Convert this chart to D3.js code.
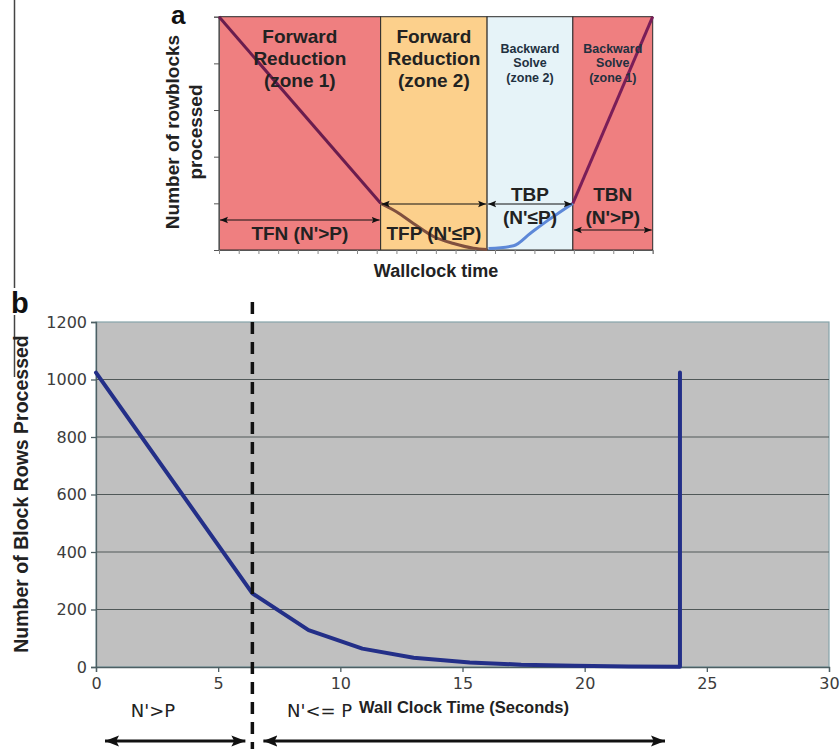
<!DOCTYPE html>
<html>
<head>
<meta charset="utf-8">
<script src="https://cdn.jsdelivr.net/npm/d3@7"></script>
<style>
  html, body { margin: 0; padding: 0; background: #fff; }
  svg { display: block; }
  text { font-family: "Liberation Sans", Arial, sans-serif; }
  text.dv { font-family: "DejaVu Sans", sans-serif; }
</style>
</head>
<body>
<svg id="fig" width="840" height="749"></svg>
<script>
// ---------- Panel a: schematic of the four solver phases ----------
const zoneEdges = [0, 8.2, 13.6, 17.95, 22];          // wallclock units (tick count)
const zoneFills = ["#ef7f80", "#fcd08c", "#e6f3f8", "#ef7f80"];
const zoneTitles = [
  ["Forward", "Reduction", "(zone 1)"],
  ["Forward", "Reduction", "(zone 2)"],
  ["Backward", "Solve", "(zone 2)"],
  ["Backward", "Solve", "(zone 1)"]
];
const phaseNames = ["TFN", "TFP", "TBP", "TBN"];
const phaseConds = ["(N'>P)", "(N'≤P)", "(N'≤P)", "(N'>P)"];

// rowblocks remaining, one series per phase
const tfnTime = [0, 8.2];
const tfnRows = [5, 1];
const tfpTime = [8.2, 9.0, 9.86, 10.88, 11.9, 12.9, 13.6];
const tfpRows = [1, 0.82, 0.57, 0.29, 0.14, 0.04, 0.01];
const tbpTime = [13.67, 14.94, 15.8, 16.7, 17.95];
const tbpRows = [0.03, 0.09, 0.36, 0.64, 1];
const tbnTime = [17.95, 22];
const tbnRows = [1, 5];
const phaseColors = ["#6a1d4e", "#80503f", "#5d88d8", "#7a1e58"];

// ---------- Panel b: measured run ----------
const wallTime = [0, 6.4, 8.7, 10.9, 13.0, 15.3, 17.4, 19.6, 21.8, 23.9, 23.9];
const blockRows = [1024, 256, 128, 64, 32, 16, 8, 4, 2, 1, 1024];
const yTicksB = [0, 200, 400, 600, 800, 1000, 1200];
const xTicksB = [0, 5, 10, 15, 20, 25, 30];
const switchTime = 6.4;   // N' drops to P

const svg = d3.select("#fig");

// arrow markers
const defs = svg.append("defs");
function marker(id, size) {
  defs.append("marker")
    .attr("id", id).attr("viewBox", "0 0 10 10")
    .attr("refX", 10).attr("refY", 5)
    .attr("markerWidth", size).attr("markerHeight", size)
    .attr("markerUnits", "userSpaceOnUse")
    .attr("orient", "auto-start-reverse")
    .append("path").attr("d", "M0,1 L10,5 L0,9 L2,5 Z").attr("fill", "#111");
}
marker("arrA", 8);
marker("arrB", 14);

// ================= Panel a =================
const xA = d3.scaleLinear().domain([0, 22]).range([219, 652.7]);
const yA = d3.scaleLinear().domain([0, 5]).range([250, 16.7]);
const gA = svg.append("g");

// zone backgrounds
gA.selectAll("rect.zone").data(zoneFills).join("rect")
  .attr("class", "zone")
  .attr("x", (d, i) => xA(zoneEdges[i]))
  .attr("y", yA(5))
  .attr("width", (d, i) => xA(zoneEdges[i + 1]) - xA(zoneEdges[i]))
  .attr("height", yA(0) - yA(5))
  .attr("fill", d => d)
  .attr("stroke", "#2a2a2a").attr("stroke-width", 1);

// axes
const axAy = d3.axisLeft(yA).ticks(5).tickSize(5).tickFormat("");
gA.append("g").attr("transform", `translate(${xA(0)},0)`).call(axAy)
  .call(g => g.selectAll("line,path").attr("stroke", "#555"));
const axAx = d3.axisBottom(xA).ticks(22).tickSize(4).tickFormat("");
gA.append("g").attr("transform", `translate(0,${yA(0)})`).call(axAx)
  .call(g => g.selectAll("line").attr("stroke", "#888"))
  .call(g => g.select("path").attr("stroke", "#555"));

// phase curves
const lineA = d3.line().x(d => xA(d[0])).y(d => yA(d[1])).curve(d3.curveMonotoneX);
const seriesA = [
  d3.zip(tfnTime, tfnRows), d3.zip(tfpTime, tfpRows),
  d3.zip(tbpTime, tbpRows), d3.zip(tbnTime, tbnRows)
];
gA.selectAll("path.phase").data(seriesA).join("path")
  .attr("class", "phase")
  .attr("d", lineA).attr("fill", "none")
  .attr("stroke", (d, i) => phaseColors[i]).attr("stroke-width", 3);

// zone titles
zoneTitles.forEach((lines, i) => {
  const cx = (xA(zoneEdges[i]) + xA(zoneEdges[i + 1])) / 2;
  const big = i < 2;
  const t = gA.append("text")
    .attr("text-anchor", "middle")
    .attr("fill", big ? "#222" : "#22303f")
    .attr("font-size", big ? 19 : 12.5)
    .attr("font-weight", "bold");
  lines.forEach((s, k) => {
    t.append("tspan").attr("x", cx)
      .attr("y", big ? 43 + k * 22 : 52.5 + k * 14.5)
      .text(s);
  });
});

// phase duration arrows and labels
const arrowYA = [220, 204, 204, 230];
phaseNames.forEach((nm, i) => {
  const x0 = xA(zoneEdges[i]), x1 = xA(zoneEdges[i + 1]);
  gA.append("line")
    .attr("x1", x0 + 1).attr("x2", x1 - 1)
    .attr("y1", arrowYA[i]).attr("y2", arrowYA[i])
    .attr("stroke", "#111").attr("stroke-width", 1)
    .attr("marker-start", "url(#arrA)").attr("marker-end", "url(#arrA)");
  const cx = (x0 + x1) / 2;
  if (i < 2) {
    gA.append("text").attr("x", cx).attr("y", 240).attr("text-anchor", "middle")
      .attr("font-size", 19).attr("font-weight", "bold").attr("fill", "#222")
      .text(nm + " " + phaseConds[i]);
  } else {
    gA.append("text").attr("x", cx).attr("y", 201).attr("text-anchor", "middle")
      .attr("font-size", 19).attr("font-weight", "bold").attr("fill", "#222").text(nm);
    gA.append("text").attr("x", cx).attr("y", 224).attr("text-anchor", "middle")
      .attr("font-size", 19).attr("font-weight", "bold").attr("fill", "#222").text(phaseConds[i]);
  }
});

// axis titles for panel a
gA.append("text").attr("x", 436).attr("y", 277).attr("text-anchor", "middle")
  .attr("font-size", 18).attr("font-weight", "bold").attr("fill", "#222")
  .text("Wallclock time");
gA.append("text").attr("transform", "translate(179,132) rotate(-90)")
  .attr("text-anchor", "middle").attr("font-size", 19).attr("font-weight", "bold")
  .attr("fill", "#222").text("Number of rowblocks");
gA.append("text").attr("transform", "translate(202,132) rotate(-90)")
  .attr("text-anchor", "middle").attr("font-size", 19).attr("font-weight", "bold")
  .attr("fill", "#222").text("processed");
gA.append("text").attr("x", 171).attr("y", 24).attr("font-size", 26)
  .attr("font-weight", "bold").attr("fill", "#111").text("a");

// divider rule on the left, broken where the panel letter sits
[[0, 288], [315, 377]].forEach(([y0, y1]) => {
  svg.append("line").attr("x1", 14.5).attr("x2", 14.5).attr("y1", y0).attr("y2", y1)
    .attr("stroke", "#444").attr("stroke-width", 1.5);
});

// ================= Panel b =================
const xB = d3.scaleLinear().domain([0, 30]).range([96, 829]);
const yB = d3.scaleLinear().domain([0, 1200]).range([667, 322]);
const gB = svg.append("g");

gB.append("rect")
  .attr("x", xB(0)).attr("y", yB(1200))
  .attr("width", xB(30) - xB(0)).attr("height", yB(0) - yB(1200))
  .attr("fill", "#c0c0c0").attr("stroke", "#86a4aa").attr("stroke-width", 1.2);

// gridlines
gB.selectAll("line.grid").data(yTicksB.slice(1, -1)).join("line")
  .attr("class", "grid")
  .attr("x1", xB(0)).attr("x2", xB(30))
  .attr("y1", d => yB(d)).attr("y2", d => yB(d))
  .attr("stroke", "#505858").attr("stroke-width", 1.2);

// axes; tick labels styled inline so they win over the sheet rules
function styleTicks(g) {
  g.selectAll("line,path").attr("stroke", "#4d5f63").attr("stroke-width", 1.3);
  g.selectAll("text")
    .style("font-family", "'DejaVu Sans', sans-serif")
    .style("font-size", "16px")
    .style("fill", "#3c3c3c");
}
const axBy = d3.axisLeft(yB).tickValues(yTicksB).tickSize(5).tickPadding(4)
  .tickFormat(d3.format("d"));
gB.append("g").attr("transform", `translate(${xB(0)},0)`).call(axBy).call(styleTicks);
const axBx = d3.axisBottom(xB).tickValues(xTicksB).tickSize(5).tickPadding(6)
  .tickFormat(d3.format("d"));
gB.append("g").attr("transform", `translate(0,${yB(0)})`).call(axBx).call(styleTicks);

// measured curve
const lineB = d3.line().x(d => xB(d[0])).y(d => yB(d[1]));
gB.append("path").datum(d3.zip(wallTime, blockRows))
  .attr("d", lineB).attr("fill", "none")
  .attr("stroke", "#232f88").attr("stroke-width", 4)
  .attr("stroke-linejoin", "round").attr("stroke-linecap", "round");

// switch-over marker
gB.append("line")
  .attr("x1", xB(switchTime)).attr("x2", xB(switchTime))
  .attr("y1", 302).attr("y2", 749)
  .attr("stroke", "#111").attr("stroke-width", 3.5)
  .attr("stroke-dasharray", "12,8");

// regime arrows
gB.append("line").attr("x1", 105).attr("x2", xB(switchTime) - 7)
  .attr("y1", 741).attr("y2", 741)
  .attr("stroke", "#111").attr("stroke-width", 3)
  .attr("marker-start", "url(#arrB)").attr("marker-end", "url(#arrB)");
gB.append("line").attr("x1", xB(switchTime) + 11).attr("x2", 665)
  .attr("y1", 741).attr("y2", 741)
  .attr("stroke", "#111").attr("stroke-width", 3)
  .attr("marker-start", "url(#arrB)").attr("marker-end", "url(#arrB)");

gB.append("text").attr("class", "dv").attr("x", 153).attr("y", 717).attr("text-anchor", "middle")
  .attr("font-size", 18).attr("fill", "#222").text("N'>P");
gB.append("text").attr("class", "dv").attr("x", 287).attr("y", 717)
  .attr("font-size", 18).attr("fill", "#222").text("N'<= P");
gB.append("text").attr("x", 359).attr("y", 713)
  .attr("font-size", 16.5).attr("font-weight", "bold").attr("fill", "#222")
  .text("Wall Clock Time (Seconds)");

// y title
gB.append("text").attr("transform", "translate(28,494) rotate(-90)")
  .attr("text-anchor", "middle").attr("font-size", 19.5).attr("font-weight", "bold")
  .attr("fill", "#222").text("Number of Block Rows Processed");
gB.append("rect").attr("x", 10).attr("y", 289).attr("width", 20).attr("height", 25)
  .attr("fill", "#fff");
gB.append("text").attr("x", 11).attr("y", 313).attr("font-size", 29)
  .attr("font-weight", "bold").attr("fill", "#111").text("b");
</script>
</body>
</html>
